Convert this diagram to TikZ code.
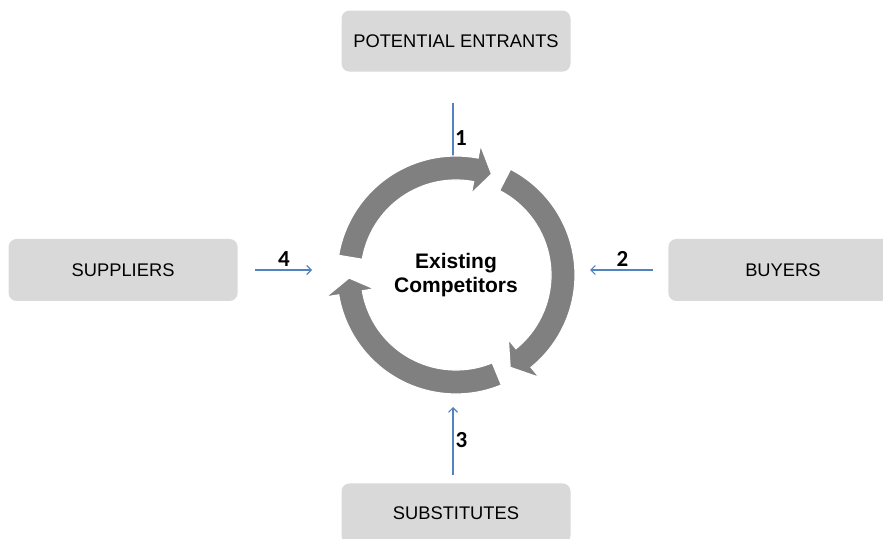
\documentclass[tikz,border=0pt]{standalone}
\usepackage{fontspec}
\setmainfont{Liberation Sans}
\newfontfamily\numfont{Carlito}
\usepackage{xcolor}
\usetikzlibrary{arrows.meta, positioning}

\definecolor{boxgray}{HTML}{D9D9D9}
\definecolor{ringgray}{HTML}{808080}
\definecolor{forceblue}{HTML}{5283BE}

% one curved block arrow of the cycle: tail angle, head base angle, tip angle
\newcommand{\cyclearrow}[3]{%
  \fill[ringgray, draw=white, line width=1.2pt]
    (#1:119pt) arc[start angle=#1, end angle=#2, radius=119pt]
    -- (#2:132pt) -- (#3:107pt) -- (#2:83pt) -- (#2:95pt)
    arc[start angle=#2, end angle=#1, radius=95pt] -- cycle;
}

\begin{document}
\begin{tikzpicture}[x=1pt, y=1pt,
    box/.style={fill=boxgray, rounded corners=8pt, minimum width=229pt,
      minimum height=61pt, inner sep=0pt, font=\fontsize{18.3}{20}\selectfont},
    force/.style={draw=forceblue, line width=1.1pt,
      -{Straight Barb[length=4.5pt, width=9pt]}},
    num/.style={inner sep=0pt, font=\numfont\bfseries\fontsize{23}{26}\selectfont}]
    \useasboundingbox (0,0) rectangle (883,538);
    \clip (0,0) rectangle (883,538);

    % the cycle in the middle
    \node[circle, minimum size=238pt, inner sep=0pt] (rivalry) at (456,263) {};

    \node[box, above=84pt of rivalry] (entrants) {POTENTIAL ENTRANTS};
    \node[box, minimum height=62pt, left=99pt of rivalry, yshift=5pt] (suppliers) {SUPPLIERS};
    \node[box, minimum height=62pt, right=93pt of rivalry, yshift=5pt] (buyers) {BUYERS};
    \node[box, minimum height=60pt, below=89pt of rivalry] (substitutes) {SUBSTITUTES};

    % ends of the forces at the cycle
    \coordinate (f1) at (453,372);
    \coordinate (f2) at (590,268);
    \coordinate (f3) at (453,131);
    \coordinate (f4) at (312,268);

    \draw[force, shorten <=31pt] (entrants.south -| f1) -- (f1);
    \draw[force, shorten <=15pt] (buyers.west) -- (f2);
    \draw[force, shorten <=8pt] (substitutes.north -| f3) -- (f3);
    \draw[force, shorten <=17pt] (suppliers.east) -- (f4);

    \begin{scope}[shift={(rivalry.center)}]
        \cyclearrow{170.5}{79.3}{70.6}
        \cyclearrow{62.7}{-50.9}{-59.6}
        \cyclearrow{-67.6}{-170.4}{-178.4}
    \end{scope}

    \node[align=center, font=\bfseries\fontsize{21}{24}\selectfont] (label) at (rivalry) {Existing\\Competitors};

    \node[num] (n1) at (461,399.5) {1};
    \node[num] (n2) at (622.5,279) {2};
    \node[num] (n3) at (461.5,98) {3};
    \node[num] (n4) at (284,278.5) {4};
\end{tikzpicture}
\end{document}
